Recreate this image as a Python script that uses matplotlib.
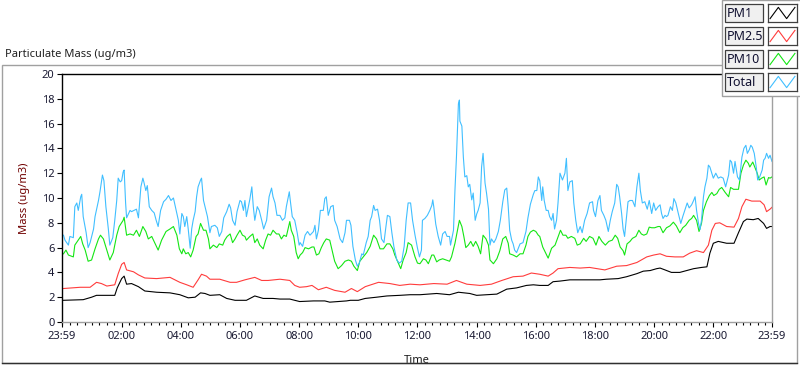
import numpy as np
import matplotlib
matplotlib.use('Agg')
import matplotlib.pyplot as plt
from matplotlib.patches import Rectangle

plt.rcParams['font.family'] = ['Noto Sans', 'DejaVu Sans']

# time in minutes after 23:59 (chart spans 24 h), values in ug/m3
total_t = [3, 6, 13, 16, 23, 26, 30, 33, 38, 40, 43, 49, 53, 57, 64, 67, 74, 77, 82, 85,
           89, 94, 97, 103, 107, 111, 114, 118, 121, 124, 126, 129, 131, 138, 141, 146, 151, 155, 160, 164,
           166, 170, 173, 177, 182, 187, 191, 195, 200, 206, 211, 216, 221, 226, 231, 236, 239, 243, 246, 249,
           253, 256, 260, 263, 266, 270, 273, 276, 281, 283, 287, 290, 295, 300, 303, 310, 315, 319, 324, 328,
           334, 339, 342, 346, 351, 355, 361, 364, 368, 371, 374, 378, 381, 385, 388, 391, 396, 400, 405, 409,
           415, 420, 425, 428, 432, 436, 442, 447, 452, 455, 461, 463, 467, 472, 477, 481, 483, 488, 493, 498,
           503, 510, 513, 516, 520, 524, 530, 533, 536, 540, 545, 550, 553, 558, 564, 569, 574, 577, 583, 586,
           590, 595, 599, 603, 608, 611, 617, 621, 625, 628, 632, 635, 640, 644, 648, 653, 657, 660, 665, 669,
           673, 679, 684, 689, 694, 698, 702, 707, 711, 716, 721, 725, 729, 731, 736, 741, 746, 750, 752, 754,
           758, 763, 768, 772, 777, 781, 786, 788, 794, 797, 800, 804, 806, 807, 811, 814, 817, 821, 824, 827,
           831, 834, 838, 841, 844, 848, 851, 854, 858, 861, 865, 868, 871, 876, 880, 885, 889, 894, 898, 902,
           905, 908, 912, 915, 918, 922, 929, 935, 941, 945, 950, 956, 959, 963, 966, 969, 973, 975, 978, 982,
           986, 989, 993, 996, 999, 1003, 1006, 1010, 1015, 1020, 1023, 1026, 1030, 1035, 1038, 1042, 1046, 1051, 1055, 1060,
           1065, 1070, 1076, 1078, 1082, 1087, 1091, 1094, 1099, 1103, 1108, 1112, 1116, 1121, 1125, 1128, 1131, 1135, 1138, 1141,
           1145, 1148, 1152, 1157, 1162, 1166, 1170, 1173, 1177, 1182, 1187, 1191, 1196, 1200, 1204, 1209, 1213, 1216, 1219, 1223,
           1226, 1229, 1234, 1238, 1241, 1245, 1250, 1255, 1259, 1263, 1268, 1272, 1277, 1281, 1284, 1287, 1291, 1294, 1297, 1301,
           1304, 1308, 1311, 1314, 1318, 1321, 1326, 1331, 1336, 1341, 1346, 1352, 1355, 1358, 1362, 1365, 1370, 1374, 1379, 1383,
           1387, 1390, 1394, 1397, 1400, 1404, 1408, 1411, 1415, 1420, 1423, 1426, 1429, 1433, 1436, 1440]
total_v = [7.0, 6.6, 6.2, 6.9, 6.8, 9.3, 9.6, 9.0, 10.1, 10.3, 8.5, 7.2, 6.0, 6.4, 7.5, 8.5, 9.8, 10.5, 11.85, 11.4,
           9.3, 7.5, 6.2, 6.8, 8.2, 9.8, 11.6, 11.3, 11.4, 12.1, 12.25, 9.6, 8.4, 9.0, 8.9, 9.0, 9.1, 8.4, 10.9, 11.6,
           11.3, 10.6, 11.0, 9.3, 9.0, 8.8, 8.2, 7.7, 9.0, 9.7, 9.9, 10.2, 9.8, 10.0, 9.1, 8.2, 7.1, 8.75, 8.5, 7.7,
           8.5, 7.5, 5.95, 7.5, 8.2, 8.9, 10.1, 10.9, 11.45, 11.6, 9.8, 9.3, 8.5, 7.2, 7.7, 7.8, 7.6, 6.9, 7.3, 8.4,
           8.9, 9.5, 9.2, 8.2, 7.8, 8.9, 9.8, 9.7, 9.0, 9.8, 8.5, 9.3, 9.9, 10.9, 9.3, 8.2, 9.3, 9.0, 8.2, 7.5,
           8.2, 10.1, 10.8, 10.1, 9.6, 8.6, 8.6, 8.2, 8.4, 9.3, 10.5, 9.8, 8.5, 8.2, 7.2, 6.2, 6.4, 6.1, 7.0, 7.3,
           7.0, 7.3, 7.8, 6.7, 7.4, 9.0, 9.0, 9.95, 10.1, 8.6, 9.3, 9.4, 8.2, 7.7, 6.7, 6.4, 7.2, 8.2, 8.2, 7.8,
           6.1, 5.0, 4.5, 4.75, 5.5, 5.4, 6.4, 6.9, 8.2, 8.5, 9.4, 9.0, 9.1, 8.2, 6.7, 6.4, 7.7, 8.6, 8.5, 7.2,
           6.1, 5.0, 4.75, 4.9, 6.1, 8.2, 9.6, 9.6, 8.2, 7.0, 5.95, 5.25, 5.8, 8.2, 8.35, 8.6, 9.0, 9.4, 9.85, 9.3,
           7.9, 6.9, 6.2, 7.1, 7.3, 6.9, 6.9, 6.2, 7.4, 10.65, 13.3, 17.6, 17.9, 16.2, 15.8, 13.3, 11.7, 11.8, 10.9, 11.1,
           9.85, 10.4, 8.2, 8.7, 9.0, 9.6, 12.5, 13.6, 11.2, 10.4, 9.1, 6.2, 6.7, 6.4, 6.7, 7.3, 8.2, 9.7, 10.65, 10.8,
           9.3, 7.4, 6.6, 6.3, 5.8, 5.6, 6.3, 6.4, 7.3, 8.4, 9.5, 10.3, 10.6, 10.6, 11.7, 11.4, 9.8, 10.9, 9.8, 9.0,
           9.0, 8.5, 8.2, 8.75, 7.5, 8.2, 9.6, 12.0, 11.45, 12.0, 13.2, 10.6, 11.3, 11.4, 9.6, 8.2, 7.2, 7.7, 7.2, 8.2,
           8.75, 9.6, 9.7, 9.0, 8.5, 9.8, 10.2, 9.0, 8.6, 8.2, 7.3, 8.2, 8.9, 9.6, 11.1, 10.9, 10.1, 8.75, 7.5, 6.9,
           8.5, 9.7, 9.8, 9.8, 9.3, 10.9, 12.0, 10.6, 9.6, 9.7, 9.1, 9.8, 8.75, 9.6, 9.0, 9.3, 9.45, 8.75, 8.35, 8.6,
           8.5, 8.6, 9.3, 9.0, 9.95, 9.6, 8.75, 7.95, 8.5, 9.0, 9.6, 9.2, 9.45, 9.8, 10.1, 9.0, 7.95, 7.45, 8.2, 10.1,
           10.9, 11.6, 12.65, 12.5, 12.0, 11.6, 12.0, 11.6, 11.7, 11.6, 10.9, 11.85, 13.05, 12.9, 12.0, 12.95, 11.7, 11.45, 13.3, 14.0,
           14.25, 13.6, 13.9, 14.25, 14.1, 13.6, 12.5, 11.45, 11.7, 12.25, 13.05, 13.2, 13.6, 13.2, 13.45, 12.95]

pm10_t = [3, 8, 13, 23, 26, 33, 38, 42, 47, 53, 60, 67, 74, 78, 84, 91, 97, 104, 111, 116,
          124, 126, 131, 138, 145, 151, 157, 164, 170, 175, 182, 189, 195, 202, 211, 219, 226, 233, 238, 243,
          246, 251, 256, 261, 266, 272, 276, 281, 287, 292, 297, 300, 307, 314, 319, 326, 330, 335, 341, 346,
          351, 355, 361, 366, 371, 374, 381, 387, 391, 396, 401, 408, 413, 418, 423, 428, 435, 440, 445, 450,
          455, 462, 465, 470, 475, 479, 483, 488, 493, 500, 507, 511, 516, 521, 526, 531, 536, 543, 549, 553,
          560, 567, 574, 581, 587, 592, 599, 604, 611, 618, 625, 632, 638, 645, 652, 659, 665, 671, 675, 682,
          687, 692, 698, 702, 709, 716, 721, 726, 733, 738, 743, 750, 754, 760, 765, 772, 779, 786, 790, 797,
          802, 806, 811, 815, 819, 824, 829, 834, 839, 844, 849, 854, 860, 865, 868, 875, 882, 888, 894, 900,
          905, 908, 915, 922, 929, 935, 941, 945, 950, 956, 961, 966, 969, 975, 980, 986, 993, 1000, 1005, 1011,
          1016, 1022, 1026, 1033, 1040, 1045, 1051, 1058, 1063, 1070, 1077, 1083, 1089, 1095, 1102, 1109, 1116, 1122, 1127, 1132,
          1138, 1141, 1146, 1152, 1157, 1164, 1170, 1175, 1180, 1186, 1191, 1196, 1202, 1209, 1213, 1219, 1226, 1233, 1240, 1246,
          1253, 1259, 1265, 1272, 1277, 1281, 1287, 1292, 1297, 1301, 1307, 1313, 1318, 1322, 1328, 1333, 1338, 1345, 1352, 1356,
          1362, 1369, 1372, 1377, 1382, 1387, 1392, 1395, 1401, 1405, 1410, 1414, 1419, 1424, 1428, 1433, 1436, 1440]
pm10_v = [5.5, 5.8, 5.4, 5.25, 6.2, 6.6, 6.9, 6.3, 5.8, 4.9, 5.0, 5.9, 6.7, 7.0, 6.7, 5.8, 5.0, 5.6, 7.0, 7.7,
          8.2, 8.45, 7.0, 7.1, 7.0, 7.4, 6.9, 7.7, 7.3, 6.7, 6.9, 6.3, 5.8, 6.6, 7.3, 7.5, 7.7, 7.0, 5.9, 5.5,
          5.9, 5.5, 5.6, 5.25, 5.8, 6.9, 7.1, 7.95, 7.4, 7.4, 6.7, 5.9, 6.2, 6.0, 6.3, 6.2, 6.6, 6.9, 7.1, 6.4,
          6.7, 7.0, 7.4, 7.0, 6.9, 6.6, 6.9, 7.1, 6.4, 6.7, 6.2, 5.9, 6.6, 7.1, 7.0, 7.4, 7.1, 7.1, 6.7, 7.0,
          6.9, 8.1, 7.4, 6.9, 5.6, 5.1, 5.4, 5.6, 6.0, 5.9, 6.05, 6.05, 5.4, 5.5, 6.0, 6.4, 6.7, 6.6, 5.6, 4.9,
          4.3, 4.55, 4.9, 5.0, 4.9, 4.5, 4.15, 4.9, 5.25, 5.6, 6.1, 7.0, 6.7, 5.9, 5.9, 6.3, 6.3, 5.9, 5.4, 4.75,
          4.3, 5.0, 5.6, 6.4, 6.2, 5.25, 4.75, 4.7, 5.1, 5.0, 4.7, 5.4, 5.4, 4.85, 5.0, 5.1, 5.0, 4.9, 5.25, 6.35,
          7.4, 8.2, 7.7, 6.9, 6.0, 6.2, 6.5, 6.1, 6.5, 6.1, 5.5, 7.0, 6.7, 6.2, 5.0, 4.7, 5.1, 5.75, 6.7, 6.9,
          6.35, 5.5, 5.4, 5.25, 5.5, 5.5, 6.2, 6.9, 7.25, 7.4, 7.3, 7.0, 6.9, 6.05, 5.65, 5.15, 5.95, 6.2, 6.75, 7.4,
          7.0, 7.0, 6.75, 6.9, 6.75, 6.2, 6.3, 6.75, 6.5, 6.9, 6.75, 6.2, 6.9, 6.5, 6.2, 6.5, 6.6, 7.0, 6.75, 6.05,
          5.75, 5.4, 6.3, 6.5, 6.75, 6.9, 7.4, 7.1, 7.0, 7.1, 7.65, 7.6, 7.6, 7.7, 7.7, 7.2, 7.6, 7.75, 8.05, 7.75,
          7.2, 7.6, 7.8, 8.2, 8.35, 8.6, 8.2, 7.3, 7.95, 9.0, 9.7, 10.2, 10.45, 10.2, 10.35, 10.7, 10.85, 10.45, 10.1, 10.85,
          10.7, 10.7, 10.7, 12.0, 12.65, 13.05, 12.8, 12.5, 12.9, 12.5, 12.0, 11.45, 11.6, 11.7, 11.05, 11.65, 11.6, 11.7]

pm25_t = [3, 37, 57, 70, 80, 91, 107, 114, 121, 126, 131, 145, 155, 168, 192, 219, 239, 253, 266, 276,
          283, 293, 300, 320, 341, 354, 371, 391, 405, 418, 442, 462, 472, 482, 496, 507, 520, 536, 553, 574,
          587, 599, 615, 642, 665, 685, 706, 726, 754, 781, 800, 821, 848, 871, 892, 915, 935, 952, 969, 986,
          996, 1006, 1030, 1051, 1070, 1101, 1125, 1145, 1166, 1186, 1200, 1213, 1226, 1243, 1260, 1273, 1287, 1301, 1311, 1318,
          1325, 1334, 1348, 1363, 1372, 1379, 1387, 1399, 1416, 1424, 1429, 1436, 1440]
pm25_v = [2.7, 2.8, 2.8, 3.2, 3.1, 2.9, 3.0, 3.9, 4.65, 4.8, 4.2, 4.05, 3.8, 3.55, 3.5, 3.6, 3.2, 3.0, 2.8, 3.4,
          3.85, 3.7, 3.45, 3.45, 3.2, 3.2, 3.4, 3.6, 3.35, 3.35, 3.45, 3.35, 2.95, 2.8, 2.85, 2.95, 2.6, 2.8, 2.55, 2.4,
          2.7, 2.45, 2.85, 3.2, 3.1, 2.95, 3.05, 3.0, 3.1, 3.05, 3.35, 3.05, 2.95, 3.05, 3.35, 3.65, 3.7, 3.95, 3.85, 3.7,
          3.95, 4.3, 4.4, 4.35, 4.4, 4.2, 4.5, 4.55, 4.8, 5.25, 5.4, 5.5, 5.3, 5.25, 5.25, 5.55, 5.75, 5.6, 6.2, 7.4,
          7.95, 8.0, 7.7, 7.65, 8.35, 9.3, 9.9, 9.75, 9.75, 9.45, 8.9, 9.1, 9.25]

pm1_t = [3, 43, 60, 70, 107, 112, 121, 126, 131, 141, 155, 168, 192, 219, 239, 256, 270, 281, 290, 300,
         320, 334, 351, 374, 391, 408, 428, 442, 462, 472, 482, 510, 533, 543, 577, 585, 601, 615, 638, 659,
         685, 706, 726, 760, 786, 804, 827, 841, 882, 902, 922, 942, 956, 969, 986, 996, 1010, 1030, 1091, 1104,
         1128, 1145, 1166, 1179, 1193, 1206, 1213, 1223, 1236, 1253, 1267, 1281, 1297, 1308, 1314, 1321, 1331, 1348, 1363, 1372,
         1382, 1389, 1402, 1412, 1423, 1429, 1436, 1440]
pm1_v = [1.75, 1.8, 2.0, 2.15, 2.15, 2.75, 3.5, 3.7, 3.05, 3.1, 2.85, 2.5, 2.4, 2.35, 2.2, 1.95, 2.0, 2.35, 2.3, 2.15,
         2.2, 1.9, 1.75, 1.75, 2.1, 1.9, 1.9, 1.85, 1.85, 1.75, 1.65, 1.7, 1.7, 1.6, 1.7, 1.75, 1.75, 1.9, 2.0, 2.1,
         2.15, 2.2, 2.2, 2.3, 2.2, 2.4, 2.3, 2.15, 2.25, 2.65, 2.75, 2.95, 3.0, 2.95, 2.95, 3.25, 3.3, 3.4, 3.4, 3.45,
         3.5, 3.65, 3.9, 4.1, 4.15, 4.3, 4.35, 4.2, 4.0, 4.0, 4.15, 4.3, 4.4, 4.45, 5.55, 6.35, 6.5, 6.35, 6.35, 7.2,
         8.1, 8.3, 8.25, 8.35, 7.95, 7.55, 7.7, 7.7]

series_names = ['PM1', 'PM2.5', 'PM10', 'Total']
series_colors = ['#000000', '#ff3c3c', '#14e614', '#40bfff']
series_data = [(pm1_t, pm1_v), (pm25_t, pm25_v), (pm10_t, pm10_v), (total_t, total_v)]

tick_pos = [0, 121, 241, 361, 481, 601, 721, 841, 961, 1081, 1201, 1321, 1440]
tick_labels = ['23:59', '02:00', '04:00', '06:00', '08:00', '10:00', '12:00',
               '14:00', '16:00', '18:00', '20:00', '22:00', '23:59']

W, H = 800, 365


def fr(x, y):
    # pixel (from top-left) to figure fraction
    return x / W, 1 - y / H


fig = plt.figure(figsize=(W / 100, H / 100), dpi=100)
fig.patch.set_facecolor('white')

# panel frame: grey top/left, dark bottom
fig.add_artist(Rectangle(fr(2, 363), 795 / W, 298 / H, fill=False,
                         edgecolor='#a0a0a0', lw=1.0, zorder=0.5))
fig.add_artist(plt.Line2D([2 / W, 797 / W], [1 - 363 / H] * 2, color='#303030',
                          lw=1.0, zorder=0.6))
fig.text(5 / W, 1 - 55 / H, 'Particulate Mass (ug/m3)', fontsize=8,
         color='#202020', va='center', ha='left')

ax = fig.add_axes([62 / W, 1 - 322 / H, 710 / W, 248 / H])
for (t, v), c in zip(series_data, series_colors):
    ax.plot(t, v, color=c, lw=0.8)

ax.set_xlim(0, 1440)
ax.set_ylim(0, 20)
ax.set_yticks(np.arange(0, 21, 2))
ax.set_xticks(tick_pos)
ax.set_xticklabels(tick_labels)
ax.set_xticks(np.arange(1, 1440, 15), minor=True)
ax.tick_params(axis='both', which='major', direction='out', length=3.5, width=0.8,
               labelsize=8, labelcolor='#1a1a33', pad=2)
ax.tick_params(axis='x', which='minor', direction='out', length=2.5, width=0.8)
ax.tick_params(axis='x', which='major', pad=3)

ax.spines['left'].set_color('black')
ax.spines['top'].set_color('black')
ax.spines['right'].set_color('#a0a0a0')
ax.spines['bottom'].set_color('#a0a0a0')
for s in ax.spines.values():
    s.set_linewidth(1.0)

ax.set_ylabel('Mass (ug/m3)', fontsize=8, color='#700000')
ax.yaxis.set_label_coords(-0.045, 0.5)
ax.set_xlabel('Time', fontsize=8, color='#1a1a1a')
ax.xaxis.set_label_coords(0.5, -0.133)

# legend panel in the top right corner
fig.add_artist(Rectangle(fr(722, 96), 80 / W, 96 / H, facecolor='white',
                         edgecolor='#a0a0a0', lw=1.0, zorder=5))
for i, (name, c) in enumerate(zip(series_names, series_colors)):
    top = 4 + 23 * i
    fig.add_artist(Rectangle(fr(725, top + 18), 38 / W, 18 / H, facecolor='#f0f0f0',
                             edgecolor='#404040', lw=0.9, zorder=6))
    fig.text(727 / W, 1 - (top + 9.5) / H, name, fontsize=9, color='#101030',
             va='center', ha='left', zorder=7)
    iax = fig.add_axes([768 / W, 1 - (top + 18) / H, 29 / W, 18 / H])
    iax.set_zorder(8)
    iax.plot([0, 1, 2, 3], [0, 1, 0, 1], color=c, lw=0.8)
    iax.set_xlim(-0.25, 3.25)
    iax.set_ylim(-0.3, 1.3)
    iax.set_xticks([])
    iax.set_yticks([])
    for s in iax.spines.values():
        s.set_color('#404040')
        s.set_linewidth(0.9)

fig.savefig('out.png', dpi=100)
